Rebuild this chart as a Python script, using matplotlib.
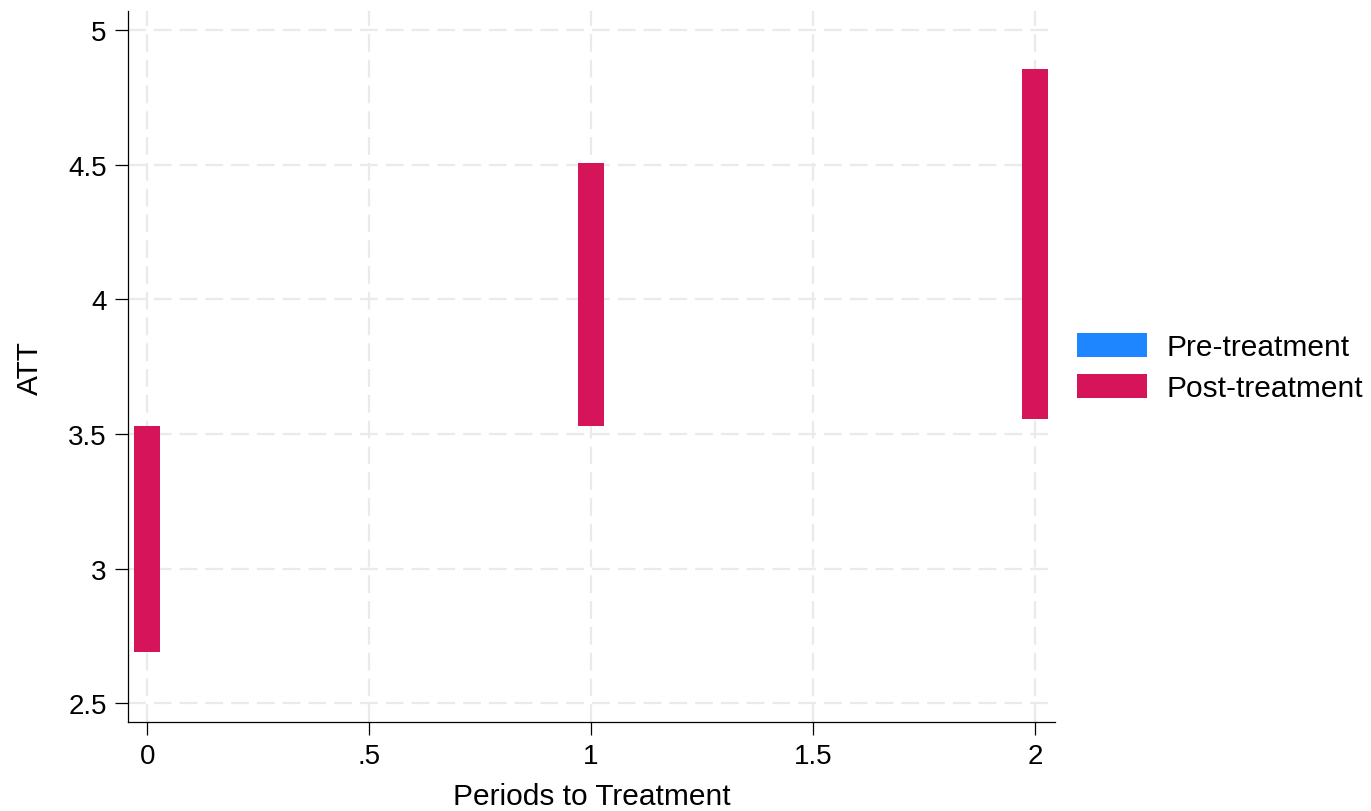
import matplotlib

matplotlib.use("Agg")

import matplotlib.pyplot as plt
from matplotlib.patches import Patch

plt.rcParams["font.family"] = ["Liberation Sans", "DejaVu Sans"]

PRE_COLOR = "#1E87FF"
POST_COLOR = "#D51459"

# confidence intervals of the ATT by period relative to treatment
pre_periods = []
pre_lo = []
pre_hi = []
post_periods = [0, 1, 2]
post_lo = [2.69, 3.53, 3.555]
post_hi = [3.53, 4.505, 4.855]

x_ticks = [0, 0.5, 1, 1.5, 2]
x_tick_labels = ["0", ".5", "1", "1.5", "2"]
y_ticks = [2.5, 3, 3.5, 4, 4.5, 5]
y_tick_labels = ["2.5", "3", "3.5", "4", "4.5", "5"]

fig = plt.figure(figsize=(13.71, 8.12), dpi=100)
ax = fig.add_axes((0.0934, 0.1096, 0.6761, 0.8754))

width = 0.06
ax.bar(pre_periods, [h - l for l, h in zip(pre_lo, pre_hi)], bottom=pre_lo,
       width=width, color=PRE_COLOR, linewidth=0, zorder=3)
ax.bar(post_periods, [h - l for l, h in zip(post_lo, post_hi)], bottom=post_lo,
       width=width, color=POST_COLOR, linewidth=0, zorder=3)

ax.set_xlim(-0.043, 2.045)
ax.set_ylim(2.431, 5.07)
ax.set_xticks(x_ticks, x_tick_labels)
ax.set_yticks(y_ticks, y_tick_labels)

ax.grid(True, color="#EAEAEA", linewidth=1.6, linestyle=(0, (8.0, 3.6)), zorder=0)
ax.set_axisbelow(True)
for side in ("top", "right"):
    ax.spines[side].set_visible(False)
for side in ("left", "bottom"):
    ax.spines[side].set_linewidth(0.9)
ax.tick_params(axis="both", direction="out", length=9.4, width=0.9,
               labelsize=20, pad=6, colors="black")

ax.set_xlabel("Periods to Treatment", fontsize=21.5, labelpad=9)
ax.set_ylabel("ATT", fontsize=21.5, labelpad=17)

handles = [
    Patch(facecolor=PRE_COLOR, edgecolor="none", label="Pre-treatment"),
    Patch(facecolor=POST_COLOR, edgecolor="none", label="Post-treatment"),
]
fig.legend(
    handles=handles,
    loc="center left",
    bbox_to_anchor=(0.7855, 0.546),
    frameon=False,
    fontsize=21.5,
    handlelength=2.34,
    handleheight=0.87,
    handletextpad=0.65,
    labelspacing=0.42,
    borderaxespad=0,
    borderpad=0,
)

fig.savefig("out.png", dpi=100)
